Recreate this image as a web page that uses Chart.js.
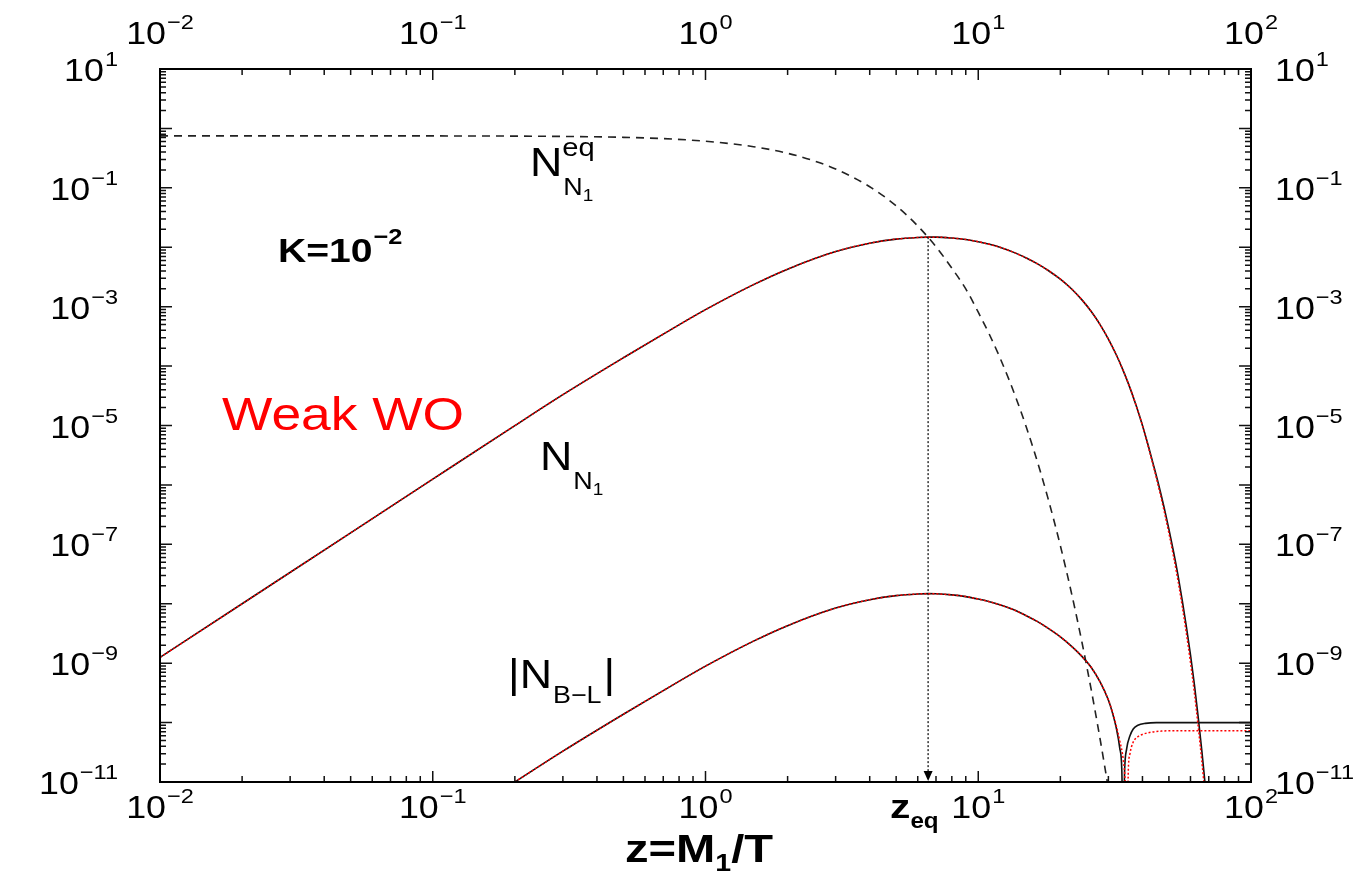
<!DOCTYPE html>
<html>
<head>
<meta charset="utf-8">
<script src="https://cdn.jsdelivr.net/npm/chart.js@4.4.1/dist/chart.umd.min.js"></script>
<style>
  html, body { margin: 0; padding: 0; background: #fff; }
  #wrap { width: 1362px; height: 875px; }
</style>
</head>
<body>
<div id="wrap"><canvas id="abund" width="1362" height="875"></canvas></div>
<script>
// equilibrium abundance of N1 (dashed)
const zEq = [0.01, 0.03, 0.1, 0.2, 0.3, 0.5, 0.7, 1, 1.5, 2, 2.5, 3, 4, 5, 6, 7, 8, 9, 10, 11, 12, 13, 14, 15, 16, 17, 18, 19, 20, 21, 22, 23, 24, 25, 26, 27, 28, 29, 30, 32];
const nEq = [0.75, 0.7498, 0.748, 0.7425, 0.733, 0.708, 0.673, 0.609, 0.4925, 0.381, 0.2847, 0.2076, 0.1044, 0.0498, 0.02284, 0.01019, 0.004448, 0.00199, 8.06e-4, 3.37e-4, 1.395e-4, 5.72e-5, 2.33e-5, 9.42e-6, 3.79e-6, 1.518e-6, 6.05e-7, 2.40e-7, 9.49e-8, 3.74e-8, 1.47e-8, 5.76e-9, 2.25e-9, 8.78e-10, 3.42e-10, 1.327e-10, 5.14e-11, 1.99e-11, 7.68e-12, 1.14e-12];

// N1 abundance: full solution (black) and approximation (red dotted)
const zN1 = [0.01, 0.02, 0.05, 0.1, 0.2, 0.3, 0.5, 0.7, 1, 1.5, 2, 3, 4, 5, 6, 6.55, 7, 8, 9, 10, 11, 12, 13.5, 15, 16.5, 18, 20, 22, 24, 26, 28, 30, 32, 34, 36, 38, 40, 42, 44, 46, 48, 50, 52, 54, 56, 58, 60, 62, 64, 66, 68];
const nN1 = [1.25e-9, 1.0e-8, 1.56e-7, 1.25e-6, 9.95e-6, 3.3e-5, 1.38e-4, 3.45e-4, 8.9e-4, 2.35e-3, 4.28e-3, 8.45e-3, 1.17e-2, 1.37e-2, 1.46e-2, 1.48e-2, 1.48e-2, 1.43e-2, 1.35e-2, 1.24e-2, 1.12e-2, 1.0e-2, 8.2e-3, 6.6e-3, 5.25e-3, 4.1e-3, 2.9e-3, 1.98e-3, 1.3e-3, 8.2e-4, 4.95e-4, 2.85e-4, 1.58e-4, 8.4e-5, 4.3e-5, 2.1e-5, 1.0e-5, 4.6e-6, 2.08e-6, 9.5e-7, 4.2e-7, 1.8e-7, 7.5e-8, 3.0e-8, 1.12e-8, 4.0e-9, 1.38e-9, 4.4e-10, 1.26e-10, 3.4e-11, 8.5e-12];
const nN1Red = [1.25e-9, 1.0e-8, 1.56e-7, 1.25e-6, 9.95e-6, 3.3e-5, 1.38e-4, 3.45e-4, 8.9e-4, 2.35e-3, 4.28e-3, 8.45e-3, 1.17e-2, 1.37e-2, 1.46e-2, 1.48e-2, 1.48e-2, 1.43e-2, 1.35e-2, 1.24e-2, 1.12e-2, 1.0e-2, 8.2e-3, 6.6e-3, 5.25e-3, 4.1e-3, 2.9e-3, 1.98e-3, 1.3e-3, 8.2e-4, 4.95e-4, 2.85e-4, 1.58e-4, 8.4e-5, 4.3e-5, 2.1e-5, 1.0e-5, 4.4e-6, 1.95e-6, 8.6e-7, 3.7e-7, 1.55e-7, 6.3e-8, 2.45e-8, 8.9e-9, 3.1e-9, 1.03e-9, 3.2e-10, 8.8e-11, 2.3e-11, 5.5e-12];

// |N_B-L|, black and red dotted
const zBL = [0.2, 0.3, 0.5, 0.7, 1, 1.5, 2, 3, 4, 5, 6, 6.55, 7, 8, 9, 10, 11, 12, 13.5, 15, 16.5, 18, 20, 22, 24, 26, 28, 30, 31, 32, 33, 33.6, 34, 34.4, 35, 36, 37, 38.5, 41, 45, 55, 100];
const nBL = [1.0e-11, 3.3e-11, 1.38e-10, 3.45e-10, 8.9e-10, 2.35e-9, 4.28e-9, 8.45e-9, 1.17e-8, 1.37e-8, 1.46e-8, 1.48e-8, 1.47e-8, 1.41e-8, 1.32e-8, 1.2e-8, 1.08e-8, 9.6e-9, 7.9e-9, 6.3e-9, 5.0e-9, 3.9e-9, 2.78e-9, 1.92e-9, 1.3e-9, 8.4e-10, 4.8e-10, 2.4e-10, 1.5e-10, 8.5e-11, 3.8e-11, 1.6e-11, 1e-12, 1.5e-11, 3.6e-11, 6.0e-11, 7.8e-11, 9.0e-11, 9.7e-11, 1.0e-10, 1.0e-10, 1.0e-10];
const zBLRed = [0.2, 0.3, 0.5, 0.7, 1, 1.5, 2, 3, 4, 5, 6, 6.55, 7, 8, 9, 10, 11, 12, 13.5, 15, 16.5, 18, 20, 22, 24, 26, 28, 30, 31, 32, 33, 34, 34.6, 35.1, 35.5, 36, 37, 38.5, 40.3, 43, 47, 55, 100];
const nBLRed = [1.0e-11, 3.3e-11, 1.38e-10, 3.45e-10, 8.9e-10, 2.35e-9, 4.28e-9, 8.45e-9, 1.17e-8, 1.37e-8, 1.46e-8, 1.48e-8, 1.47e-8, 1.41e-8, 1.32e-8, 1.2e-8, 1.08e-8, 9.6e-9, 7.9e-9, 6.3e-9, 5.0e-9, 3.9e-9, 2.78e-9, 1.92e-9, 1.3e-9, 8.4e-10, 4.8e-10, 2.4e-10, 1.55e-10, 9.2e-11, 5.0e-11, 2.4e-11, 9e-12, 1e-12, 1.6e-11, 3.0e-11, 4.7e-11, 5.8e-11, 6.4e-11, 6.9e-11, 7.2e-11, 7.3e-11, 7.3e-11];

// z_eq marker, where N_N1 meets its equilibrium value
const zPeak = 6.55;
const nPeak = 0.0148;

// axis decades
const xDecades = [-2, -1, 0, 1, 2];
const yDecades = [1, 0, -1, -2, -3, -4, -5, -6, -7, -8, -9, -10, -11];
const yLabelDecades = [1, -1, -3, -5, -7, -9, -11];

const pts = (xs, ys) => xs.map((x, i) => ({ x: x, y: ys[i] }));

const FONT = '"Liberation Sans", Arial, Helvetica, sans-serif';

function txt(ctx, s, x, y, size, opt) {
  opt = opt || {};
  const sx = opt.sx || 1.12;
  ctx.save();
  ctx.font = (opt.bold ? 'bold ' : '') + size + 'px ' + FONT;
  ctx.fillStyle = opt.color || '#000';
  ctx.textBaseline = 'alphabetic';
  ctx.translate(x, y);
  ctx.scale(sx, 1);
  ctx.fillText(s, 0, 0);
  const w = ctx.measureText(s).width * sx;
  ctx.restore();
  return w;
}

function txtWidth(ctx, s, size, bold, sx) {
  ctx.save();
  ctx.font = (bold ? 'bold ' : '') + size + 'px ' + FONT;
  const w = ctx.measureText(s).width * (sx || 1.12);
  ctx.restore();
  return w;
}

// "10" with a raised exponent
function power(ctx, e, x, y, align) {
  const big = 32, small = 21;
  const sup = e < 0 ? '\u2212' + (-e) : String(e);
  const wb = txtWidth(ctx, '10', big);
  const ws = txtWidth(ctx, sup, small);
  const w = wb + ws + 1;
  let x0 = x;
  if (align === 'right') x0 = x - w;
  if (align === 'center') x0 = x - w / 2;
  txt(ctx, '10', x0, y, big);
  txt(ctx, sup, x0 + wb + 1, y - 15, small);
}

const decorations = {
  id: 'decorations',
  afterDatasetsDraw(chart) {
    const { ctx, chartArea: a, scales } = chart;
    const xs = scales.x, ys = scales.y;
    ctx.save();

    // inward tick marks on all four sides
    ctx.strokeStyle = '#111';
    ctx.lineWidth = 1.5;
    ctx.beginPath();
    xDecades.forEach(function (d) {
      for (let m = 1; m <= 9; m++) {
        const v = m * Math.pow(10, d);
        if (v > 100.0001) break;
        const px = xs.getPixelForValue(v);
        const len = m === 1 ? 11 : 6;
        ctx.moveTo(px, a.bottom); ctx.lineTo(px, a.bottom - len);
        ctx.moveTo(px, a.top); ctx.lineTo(px, a.top + len);
      }
    });
    yDecades.forEach(function (d) {
      for (let m = 1; m <= 9; m++) {
        const v = m * Math.pow(10, d);
        if (v > 10.0001) break;
        const py = ys.getPixelForValue(v);
        const len = m === 1 ? 12 : 6;
        ctx.moveTo(a.left, py); ctx.lineTo(a.left + len, py);
        ctx.moveTo(a.right, py); ctx.lineTo(a.right - len, py);
      }
    });
    ctx.stroke();

    // frame
    ctx.lineWidth = 2;
    ctx.strokeStyle = '#000';
    ctx.strokeRect(a.left, a.top, a.right - a.left, a.bottom - a.top);

    // arrow head at z_eq
    const ax = xs.getPixelForValue(zPeak);
    ctx.fillStyle = '#000';
    ctx.beginPath();
    ctx.moveTo(ax, a.bottom - 1);
    ctx.lineTo(ax - 4.5, a.bottom - 11);
    ctx.lineTo(ax + 4.5, a.bottom - 11);
    ctx.closePath();
    ctx.fill();

    // tick labels
    xDecades.forEach(function (d) {
      const px = xs.getPixelForValue(Math.pow(10, d));
      power(ctx, d, px, a.bottom + 36, 'center');
      power(ctx, d, px, 44, 'center');
    });
    yLabelDecades.forEach(function (d) {
      const py = ys.getPixelForValue(Math.pow(10, d));
      power(ctx, d, 118, py + 12, 'right');
      power(ctx, d, a.right + 24, py + 12, 'left');
    });

    // axis title z = M1/T
    let tx = 625;
    tx += txt(ctx, 'z=M', tx, 862, 38, { bold: true, sx: 1.24 });
    tx += txt(ctx, '1', tx, 871, 23, { bold: true, sx: 1.24 });
    txt(ctx, '/T', tx, 862, 38, { bold: true, sx: 1.24 });

    // z_eq label below the arrow
    const zx = txt(ctx, 'z', 890, 818, 34, { bold: true, sx: 1.2 });
    txt(ctx, 'eq', 890 + zx, 828, 22, { bold: true, sx: 1.1 });

    // K value
    const kw = txt(ctx, 'K=10', 278, 262, 34, { bold: true, sx: 1.15 });
    txt(ctx, '\u22122', 278 + kw + 1, 244, 22, { bold: true, sx: 1.15 });

    // curve names
    let nx = txt(ctx, 'N', 530, 176, 40);
    txt(ctx, 'eq', 530 + nx, 156, 26);
    const sn = txt(ctx, 'N', 530 + nx + 1, 195, 24);
    txt(ctx, '1', 530 + nx + 1 + sn, 201, 17);

    nx = txt(ctx, 'N', 540, 470, 40);
    const sn2 = txt(ctx, 'N', 540 + nx + 1, 489, 24);
    txt(ctx, '1', 540 + nx + 1 + sn2, 495, 17);

    nx = txt(ctx, '|N', 508, 688, 40);
    const bl = txt(ctx, 'B\u2212L', 508 + nx + 1, 703, 24);
    txt(ctx, '|', 508 + nx + 3 + bl, 688, 40);

    // washout regime
    txt(ctx, 'Weak WO', 222, 430, 46, { color: '#ff0000', sx: 1.16 });

    ctx.restore();
  }
};

const chart = new Chart(document.getElementById('abund'), {
  type: 'line',
  data: {
    datasets: [
      {
        label: 'N_N1 approx',
        data: pts(zN1, nN1Red),
        borderColor: '#ff0000',
        borderWidth: 1.5,
        borderDash: [2, 2],
      },
      {
        label: '|N_B-L| approx',
        data: pts(zBLRed, nBLRed),
        borderColor: '#ff0000',
        borderWidth: 1.5,
        borderDash: [2, 2],
      },
      {
        label: 'N_N1',
        data: pts(zN1, nN1),
        borderColor: '#111',
        borderWidth: 1.6,
      },
      {
        label: '|N_B-L|',
        data: pts(zBL, nBL),
        borderColor: '#111',
        borderWidth: 1.6,
      },
      {
        label: 'N_N1 eq',
        data: pts(zEq, nEq),
        borderColor: '#222',
        borderWidth: 1.6,
        borderDash: [8, 6],
      },
      {
        label: 'z_eq',
        data: [{ x: zPeak, y: nPeak }, { x: zPeak, y: 1e-11 }],
        borderColor: '#333',
        borderWidth: 1.5,
        borderDash: [2, 2],
        cubicInterpolationMode: 'default',
      },
    ],
  },
  options: {
    responsive: false,
    animation: false,
    devicePixelRatio: 1,
    layout: {
      padding: { left: 160, right: 111, top: 69, bottom: 93 },
    },
    elements: {
      point: { radius: 0 },
      line: { fill: false, cubicInterpolationMode: 'monotone' },
    },
    plugins: {
      legend: { display: false },
      tooltip: { enabled: false },
    },
    scales: {
      x: { type: 'logarithmic', min: 0.01, max: 100, display: false },
      y: { type: 'logarithmic', min: 1e-11, max: 10, display: false },
    },
  },
  plugins: [decorations],
});
</script>
</body>
</html>
